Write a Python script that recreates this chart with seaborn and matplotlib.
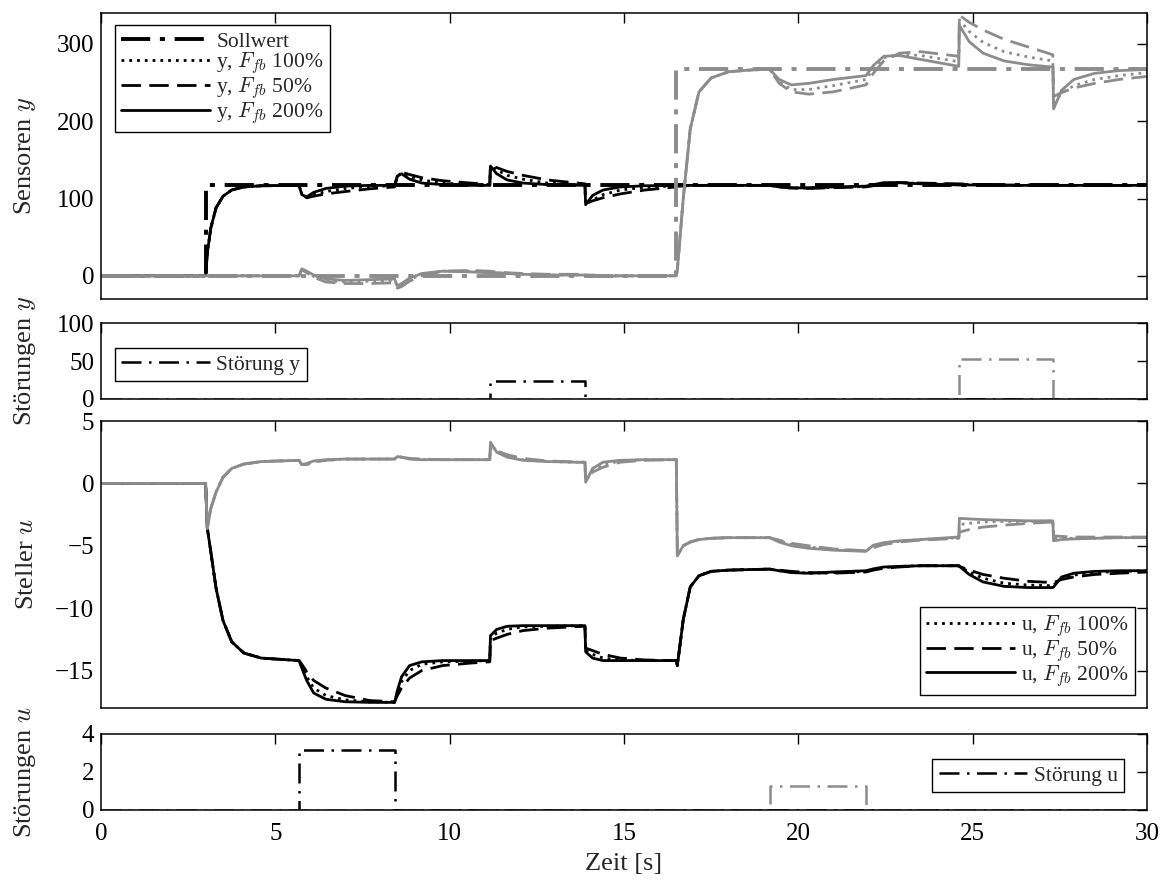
import matplotlib
matplotlib.use("Agg")
import matplotlib.pyplot as plt
import seaborn as sns

# gemeinsames Zeitraster [s] (Ereignisse bei 3, 5.68, 8.42, 11.15, 13.88, 16.5, 19.18, 21.94, 24.6, 27.3)
t_grid = [
    0.0, 3.0, 3.05, 3.15, 3.3, 3.5, 3.75, 4.1, 4.6, 5.68, 5.76,
    5.9, 6.1, 6.45, 7.0, 7.7, 8.42, 8.5, 8.62, 8.85, 9.2, 9.8,
    10.6, 11.15, 11.17, 11.35, 11.65, 12.1, 12.8, 13.88, 13.9, 14.1, 14.4,
    14.9, 15.6, 16.5, 16.53, 16.7, 16.9, 17.15, 17.5, 18.0, 18.7, 19.18,
    19.45, 19.8, 20.3, 21.0, 21.94, 22.15, 22.45, 22.9, 23.5, 24.6, 24.62,
    24.9, 25.3, 25.9, 26.6, 27.3, 27.32, 27.55, 27.9, 28.5, 29.2, 30.0,
]

# Sollwerte
soll_t_black = [0, 3, 3, 30]
soll_black = [0, 0, 117, 117]
soll_t_gray = [0, 16.5, 16.5, 30]
soll_gray = [0, 0, 267, 267]

# Sensor y, schwarz (Kanal 1)
y_black_100 = [
    0, 0, 30, 62, 88, 103, 111, 115, 116.5, 117, 106,
    101, 105, 109, 113, 115.5, 116.5, 129, 133, 128, 124, 120,
    118, 117, 142, 137, 130, 125, 120, 117.5, 92.5, 98, 105,
    111, 114.5, 116.5, 117, 117, 117, 117, 117, 117, 117, 117,
    115, 113.5, 113.5, 114.5, 115.5, 117.5, 120, 120.5, 119.5, 118, 118,
    118, 117.5, 117, 117, 117, 117, 117, 117, 117, 117, 117,
]
y_black_50 = [
    0, 0, 30, 62, 88, 103, 111, 115, 116.5, 117, 106,
    101, 103, 106, 109, 112.5, 115, 129, 134, 131, 127, 123,
    120, 118, 143, 140, 135, 130, 124, 119, 94, 97, 101,
    106, 111, 115, 116, 116, 116.5, 117, 117, 117, 117, 117,
    115.5, 114, 113, 114, 115, 116.5, 119, 120.5, 120, 119, 119,
    118.5, 118, 117.5, 117.5, 117, 117, 117, 117, 117, 117, 117,
]
y_black_200 = [
    0, 0, 30, 62, 88, 103, 111, 115, 116.5, 117, 105,
    102, 108, 113, 116, 117, 117, 129, 132, 125, 120, 118,
    117, 117, 142, 132, 124, 120, 118, 117, 92, 104, 111,
    115, 116.5, 117, 117, 117, 117, 117, 117, 117, 117, 117,
    115, 113.5, 114, 115, 116, 118, 120.5, 120.5, 119, 117.5, 117.5,
    117.5, 117.5, 117, 117, 117, 117, 117, 117, 117, 117, 117,
]

# Sensor y, grau (Kanal 2)
y_gray_100 = [
    0, 0, 0, 0, 0, 0, 0, 0, 0, 0, 9,
    5, -1, -6, -8, -7, -6, -14, -12, -5, 2, 6,
    6, 4, 4, 4, 3, 2, 1, 1, 1, 0, 0,
    0, 0, 0, 8, 100, 190, 238, 256, 264, 266.5, 267,
    251, 241, 241, 246, 254, 268, 282, 287, 285, 277, 331,
    316, 302, 290, 283, 278, 224, 236, 246, 254, 259, 263,
]
y_gray_50 = [
    0, 0, 0, 0, 0, 0, 0, 0, 0, 0, 8,
    4, -2, -8, -10, -10, -9, -16, -14, -7, 0, 6,
    7, 6, 6, 5, 4, 3, 2, 2, 1, 1, 0,
    0, 0, 0, 8, 100, 190, 238, 256, 264, 266.5, 267,
    249, 238, 235, 238, 247, 262, 278, 288, 290, 284, 337,
    328, 318, 306, 296, 286, 232, 237, 243, 249, 254, 258,
]
y_gray_200 = [
    0, 0, 0, 0, 0, 0, 0, 0, 0, 0, 9,
    6, 1, -4, -6, -5, -4, -13, -10, -3, 3, 6,
    5, 4, 4, 4, 3, 2, 1, 1, 1, 0, -1,
    0, 0, 0, 8, 100, 190, 238, 256, 264, 266.5, 267,
    254, 247, 249, 254, 259, 272, 284, 285, 280, 271, 324,
    303, 288, 278, 273, 270, 216, 240, 254, 262, 265.5, 267,
]

# Steller u, schwarz
u_black_100 = [
    0, 0, -3.6, -5.5, -8.4, -11.0, -12.7, -13.6, -14.0, -14.2, -14.7,
    -15.5, -16.4, -17.0, -17.35, -17.5, -17.55, -16.8, -15.9, -15.0, -14.5, -14.3,
    -14.25, -14.2, -12.4, -12.0, -11.7, -11.5, -11.45, -11.4, -13.4, -13.7, -14.0,
    -14.15, -14.2, -14.2, -14.6, -10.9, -8.3, -7.4, -7.05, -6.95, -6.9, -6.87,
    -7.0, -7.1, -7.2, -7.15, -7.05, -6.9, -6.75, -6.65, -6.6, -6.6, -6.65,
    -7.1, -7.6, -8.0, -8.15, -8.2, -8.15, -7.6, -7.35, -7.15, -7.05, -7.0,
]
u_black_50 = [
    0, 0, -3.6, -5.5, -8.4, -11.0, -12.7, -13.6, -14.0, -14.2, -14.5,
    -15.1, -15.8, -16.4, -17.0, -17.4, -17.5, -17.0, -16.4, -15.6, -15.0, -14.6,
    -14.4, -14.3, -12.6, -12.4, -12.1, -11.8, -11.6, -11.45, -13.2, -13.4, -13.7,
    -14.0, -14.15, -14.2, -14.6, -10.9, -8.3, -7.4, -7.05, -6.95, -6.9, -6.87,
    -6.95, -7.05, -7.15, -7.2, -7.1, -6.95, -6.8, -6.7, -6.6, -6.6, -6.65,
    -6.95, -7.3, -7.6, -7.85, -7.95, -7.95, -7.7, -7.5, -7.3, -7.2, -7.1,
]
u_black_200 = [
    0, 0, -3.6, -5.5, -8.4, -11.0, -12.7, -13.6, -14.0, -14.2, -14.8,
    -15.8, -16.8, -17.3, -17.5, -17.55, -17.55, -16.6, -15.5, -14.6, -14.3, -14.2,
    -14.2, -14.2, -12.2, -11.7, -11.45, -11.4, -11.4, -11.4, -13.5, -14.0, -14.2,
    -14.2, -14.2, -14.2, -14.6, -10.9, -8.3, -7.4, -7.05, -6.95, -6.9, -6.87,
    -7.0, -7.15, -7.2, -7.1, -7.0, -6.85, -6.7, -6.65, -6.6, -6.6, -6.65,
    -7.3, -7.9, -8.25, -8.35, -8.35, -8.3, -7.5, -7.2, -7.05, -7.0, -7.0,
]

# Steller u, grau
u_gray_100 = [
    0, 0, -3.6, -2.0, -0.7, 0.5, 1.2, 1.55, 1.75, 1.85, 1.5,
    1.55, 1.75, 1.85, 1.95, 1.95, 1.95, 2.15, 2.1, 2.0, 1.9, 1.9,
    1.9, 1.9, 3.1, 2.6, 2.2, 1.9, 1.75, 1.68, 0.2, 1.0, 1.5,
    1.8, 1.9, 1.9, -5.8, -5.0, -4.7, -4.5, -4.4, -4.35, -4.35, -4.35,
    -4.6, -4.9, -5.1, -5.3, -5.4, -5.05, -4.8, -4.65, -4.5, -4.35, -3.3,
    -3.2, -3.1, -3.05, -3.05, -3.0, -4.35, -4.4, -4.4, -4.4, -4.35, -4.35,
]
u_gray_50 = [
    0, 0, -3.6, -2.0, -0.7, 0.5, 1.2, 1.55, 1.75, 1.85, 1.5,
    1.5, 1.7, 1.85, 1.95, 1.95, 1.95, 2.1, 2.1, 2.0, 1.95, 1.9,
    1.9, 1.9, 2.9, 2.6, 2.3, 2.0, 1.8, 1.7, 0.4, 0.9, 1.3,
    1.7, 1.85, 1.9, -5.8, -5.0, -4.7, -4.5, -4.4, -4.35, -4.35, -4.35,
    -4.55, -4.8, -5.0, -5.25, -5.4, -5.15, -4.9, -4.7, -4.55, -4.4, -3.9,
    -3.7, -3.5, -3.35, -3.2, -3.1, -4.2, -4.25, -4.3, -4.3, -4.3, -4.3,
]
u_gray_200 = [
    0, 0, -3.6, -2.0, -0.7, 0.5, 1.2, 1.55, 1.75, 1.85, 1.5,
    1.6, 1.8, 1.9, 1.95, 1.95, 1.95, 2.15, 2.1, 1.95, 1.9, 1.9,
    1.9, 1.9, 3.3, 2.5, 2.1, 1.85, 1.75, 1.68, 0.1, 1.2, 1.7,
    1.85, 1.9, 1.9, -5.8, -5.0, -4.7, -4.5, -4.4, -4.35, -4.35, -4.35,
    -4.7, -5.0, -5.2, -5.35, -5.45, -4.95, -4.75, -4.6, -4.5, -4.3, -2.8,
    -2.85, -2.9, -2.95, -3.0, -3.0, -4.6, -4.5, -4.45, -4.4, -4.35, -4.35,
]

# Stoerungen
dy_t_black = [0, 11.15, 11.15, 13.88, 13.88, 30]
dy_black = [0, 0, 24, 24, 0, 0]
dy_t_gray = [0, 24.6, 24.6, 27.3, 27.3, 30]
dy_gray = [0, 0, 53, 53, 0, 0]
du_t_black = [0, 5.68, 5.68, 8.42, 8.42, 30]
du_black = [0, 0, 3.17, 3.17, 0, 0]
du_t_gray = [0, 19.18, 19.18, 21.94, 21.94, 30]
du_gray = [0, 0, 1.25, 1.25, 0, 0]

variant_labels = ["100%", "50%", "200%"]

# style
sns.set_style("white")
plt.rcParams["font.family"] = ["Liberation Serif", "DejaVu Serif"]
plt.rcParams["mathtext.fontset"] = "cm"

GRAY = "#8c8c8c"
DOT = (0, (1, 1.8))
DASH = (0, (7, 3))
SOLID = "-"
DASHDOT_THICK = (0, (7.5, 2.5, 1.3, 2.5))
DASHDOT = (0, (8, 3, 1, 3))
LW = 2.0

fig = plt.figure(figsize=(11.66, 8.81), dpi=100)
W = 1166.0
H = 881.0
left = 101 / W
width = 1046 / W


def make_ax(top_px, bottom_px):
    return fig.add_axes([left, 1 - bottom_px / H, width, (bottom_px - top_px) / H])


def draw(ax, x, y, color, ls, lw, label=None):
    sns.lineplot(x=x, y=y, ax=ax, color=color, linestyle=ls, linewidth=lw,
                 estimator=None, sort=False, label=label, legend=False)
    return ax.get_lines()[-1]


def style_axis(ax, ylim, yticks, ylabel):
    ax.set_xlim(0, 30)
    ax.set_ylim(*ylim)
    ax.set_xticks(range(0, 31, 5))
    ax.set_yticks(yticks)
    ax.tick_params(direction="in", top=True, right=True, length=7, width=1,
                   labelsize=18, colors="black", pad=5)
    ax.tick_params(axis="x", pad=9)
    for s in ax.spines.values():
        s.set_linewidth(1.1)
        s.set_color("black")
    ax.set_ylabel(ylabel, fontsize=19)
    ax.yaxis.set_label_coords(-0.06, 0.5)


def legend(ax, handles, labels, loc, anchor):
    leg = ax.legend(handles, labels, loc=loc, bbox_to_anchor=anchor, fontsize=15.5,
                    handlelength=4.1, handletextpad=0.3, labelspacing=-0.05,
                    borderpad=0.3, borderaxespad=0, fancybox=False, framealpha=1)
    leg.get_frame().set_edgecolor("black")
    leg.get_frame().set_linewidth(1.0)


# panel 1: Sensoren y
ax1 = make_ax(13, 299)
styles = [DOT, DASH, SOLID]
h_soll = draw(ax1, soll_t_black, soll_black, "black", DASHDOT_THICK, 2.8)
h_y = []
for ys, ls in zip([y_black_100, y_black_50, y_black_200], styles):
    h_y.append(draw(ax1, t_grid, ys, "black", ls, LW))
draw(ax1, soll_t_gray, soll_gray, GRAY, DASHDOT_THICK, 2.8)
for ys, ls in zip([y_gray_100, y_gray_50, y_gray_200], styles):
    draw(ax1, t_grid, ys, GRAY, ls, LW)
style_axis(ax1, (-30, 340), [0, 100, 200, 300], "Sensoren $y$")
ax1.tick_params(labelbottom=False)
legend(ax1, [h_soll] + h_y,
       ["Sollwert"] + ["y, $F_{fb}$ " + v for v in variant_labels],
       "upper left", (0.0134, 0.958))

# panel 2: Stoerungen y
ax2 = make_ax(323, 399)
h_dy = draw(ax2, dy_t_black, dy_black, "black", DASHDOT, 1.8)
draw(ax2, dy_t_gray, dy_gray, GRAY, DASHDOT, 1.8)
style_axis(ax2, (0, 100), [0, 50, 100], "Störungen $y$")
ax2.tick_params(labelbottom=False)
legend(ax2, [h_dy], ["Störung y"], "upper left", (0.0134, 0.67))

# panel 3: Steller u
ax3 = make_ax(421, 708)
h_u = []
for us, ls in zip([u_black_100, u_black_50, u_black_200], styles):
    h_u.append(draw(ax3, t_grid, us, "black", ls, LW))
for us, ls in zip([u_gray_100, u_gray_50, u_gray_200], styles):
    draw(ax3, t_grid, us, GRAY, ls, LW)
style_axis(ax3, (-18, 5), [-15, -10, -5, 0, 5], "Steller $u$")
ax3.tick_params(labelbottom=False)
legend(ax3, h_u, ["u, $F_{fb}$ " + v for v in variant_labels],
       "lower right", (0.9885, 0.045))

# panel 4: Stoerungen u
ax4 = make_ax(734, 810)
h_du = draw(ax4, du_t_black, du_black, "black", DASHDOT, 1.8)
draw(ax4, du_t_gray, du_gray, GRAY, DASHDOT, 1.8)
style_axis(ax4, (0, 4), [0, 2, 4], "Störungen $u$")
ax4.set_xlabel("Zeit [s]", fontsize=19, labelpad=6)
legend(ax4, [h_du], ["Störung u"], "lower right", (0.978, 0.237))

fig.savefig("out.png", dpi=100)
